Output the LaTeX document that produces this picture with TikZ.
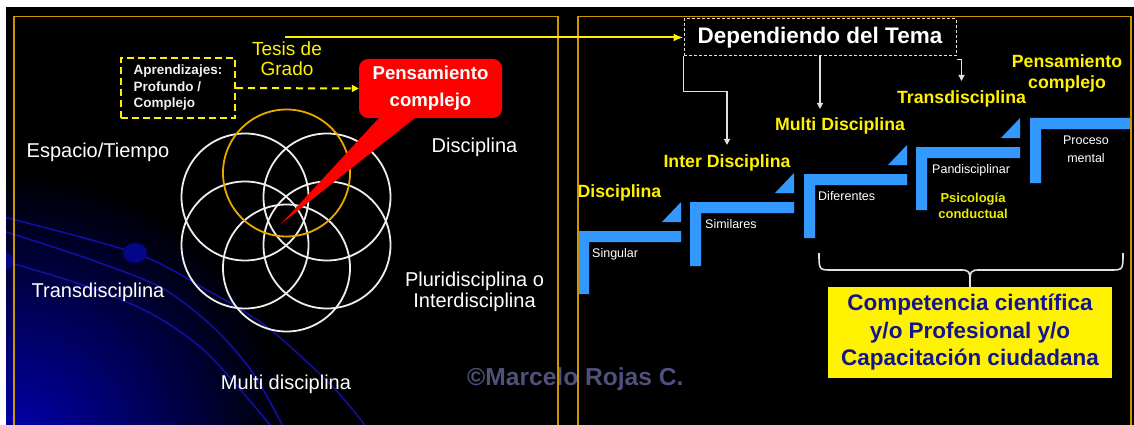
\documentclass[tikz,border=0pt]{standalone}
\usepackage{fontspec}
\setmainfont{Liberation Sans}
\usetikzlibrary{arrows.meta}
\definecolor{gold}{RGB}{204,150,0}
\definecolor{orangec}{RGB}{232,168,0}
\definecolor{stepblue}{RGB}{51,153,255}
\definecolor{navyt}{RGB}{20,20,140}
\definecolor{arcblue}{RGB}{15,15,160}
\definecolor{dotblue}{RGB}{5,5,135}
\definecolor{copyc}{RGB}{80,80,122}
\definecolor{lgray}{RGB}{225,225,225}
\definecolor{glow}{RGB}{0,0,175}
\definecolor{psyc}{RGB}{235,235,0}
\definecolor{circw}{RGB}{238,238,238}
\begin{document}
\begin{tikzpicture}[x=1pt,y=-1pt,
  wlabel/.style={text=white,inner sep=0pt,font=\fontsize{20}{22}\selectfont},
  wlabeltwo/.style={text=white,inner sep=0pt,align=center,font=\fontsize{20}{21}\selectfont},
  tesislabel/.style={text=yellow,inner sep=0pt,align=center,font=\fontsize{19}{20}\selectfont},
  ylabel/.style={text=yellow,inner sep=0pt,font=\bfseries\fontsize{17.7}{21}\selectfont},
  ylabeltwo/.style={text=yellow,inner sep=0pt,align=center,font=\bfseries\fontsize{17.7}{21}\selectfont},
  steplabel/.style={text=white,inner sep=0pt,font=\fontsize{12.5}{18}\selectfont},
  steplabeltwo/.style={text=white,inner sep=0pt,align=center,font=\fontsize{12.5}{18}\selectfont},
  psylabel/.style={text=psyc,inner sep=0pt,align=center,font=\bfseries\fontsize{13}{16}\selectfont},
  conn/.style={draw=lgray,line width=1.3pt,-{Triangle[length=6pt,width=6pt]}},
  ring/.style={draw=circw,line width=1.8pt},
]
\useasboundingbox (0,0) rectangle (1134,425);
\fill[black] (6,7) rectangle (1134,425);

% background glow and arcs of the left panel
\begin{scope}
  \clip (6,7) rectangle (558,425);
  \foreach \i in {1,...,45} {
    \pgfmathsetmacro\rr{275*(1-(\i-1)/45)}
    \pgfmathsetmacro\pp{100*\i/45}
    \fill[glow!\pp!black] (15,450) circle (\rr);
  }
  \draw[arcblue,line width=1.6pt] plot[smooth] coordinates {(0,216) (135,253) (207,290) (267,327) (333,387) (370,432)};
  \draw[arcblue,line width=1.6pt] plot[smooth] coordinates {(0,230) (83,257) (160,287) (213,327) (253,373) (286,432)};
  \draw[arcblue,line width=1.6pt] plot[smooth] coordinates {(0,260) (83,285) (150,313) (207,353) (276,432)};
  \fill[dotblue] (135,253) ellipse [x radius=12, y radius=10];
  \fill[dotblue] (4,261) circle (9);
\end{scope}

% flower of circles
\foreach \cx/\cy in {245/197,327/197,245/245,327/245,286.5/268}
  \draw[ring] (\cx,\cy) circle (63.5);
\draw[orangec,line width=1.8pt] (286.5,173) circle (63.5);

% left labels
\node[wlabel,anchor=base] (espacio) at (98,157) {Espacio/Tiempo};
\node[wlabel,anchor=base] (transL) at (98,297) {Transdisciplina};
\node[wlabel,anchor=base] (discL) at (474.5,152) {Disciplina};
\node[wlabeltwo] (pluri) at (474.5,291.5) {Pluridisciplina o\\Interdisciplina};
\node[wlabel,anchor=base] (multiL) at (286,389) {Multi disciplina};
\node[tesislabel] (tesis) at (287,58.5) {Tesis de\\Grado};

% Aprendizajes box and Pensamiento callout
\node[draw=yellow,dash pattern=on 7pt off 4pt,line width=2pt,minimum width=114pt,minimum height=60pt,inner sep=0pt,text=white!94!black,align=left,font=\bfseries\fontsize{13.5}{16.5}\selectfont] (apr) at (178,88) {Aprendizajes:\\Profundo /\\Complejo};
\node[fill=red,rounded corners=9pt,minimum width=143pt,minimum height=59pt,inner sep=0pt,text=white,align=center,font=\bfseries\fontsize{18.6}{27}\selectfont] (pc) at (430.5,88.5) {Pensamiento\\complejo};
\coordinate (tip) at (281,224);
\fill[red] ([xshift=-49pt,yshift=3pt]pc.south) -- (tip) -- ([xshift=-12pt,yshift=3pt]pc.south) -- cycle;
\draw[yellow,line width=2pt,dash pattern=on 7pt off 5pt,-{Triangle[length=7pt,width=7pt]}] (apr.east) -- (pc.west);

% copyright
\node[anchor=base west,inner sep=0pt,text=copyc,font=\bfseries\fontsize{24.6}{26}\selectfont] (copy) at (467,385) {©Marcelo Rojas C.};

% steps
\foreach \xa/\ya/\xb/\yb in {578/231/681/294, 690/202/794/266, 804/174/907/238, 916/147/1020/210, 1030/118/1131/183}
  \fill[stepblue] (\xa,\ya) -- (\xb,\ya) -- (\xb,\ya+11) -- (\xa+11,\ya+11) -- (\xa+11,\yb) -- (\xa,\yb) -- cycle;
\foreach \xb/\ya in {681/231, 794/202, 907/174, 1020/147}
  \fill[stepblue] (\xb-19,\ya-9) -- (\xb,\ya-9) -- (\xb,\ya-29) -- cycle;

% right labels
\node[ylabel,anchor=base] (discR) at (619.5,197) {Disciplina};
\node[ylabel,anchor=base] (inter) at (727,167) {Inter Disciplina};
\node[ylabel,anchor=base] (multi) at (840,130) {Multi Disciplina};
\node[ylabel,anchor=base] (trans) at (961.5,103) {Transdisciplina};
\node[ylabeltwo] (pcR) at (1067,73.5) {Pensamiento\\complejo};

\node[steplabel,anchor=base west] (sing) at (592,257) {Singular};
\node[steplabel,anchor=base west] (simi) at (705,228) {Similares};
\node[steplabel,anchor=base west] (dife) at (818,200) {Diferentes};
\node[steplabel,anchor=base west] (pand) at (932,173) {Pandisciplinar};
\node[steplabeltwo] (proc) at (1086,149) {Proceso\\mental};
\node[psylabel] (psi) at (973,206) {Psicología\\conductual};

% Dependiendo box and its connectors
\node[draw=lgray,dash pattern=on 3pt off 2pt,line width=1pt,minimum width=272pt,minimum height=37pt,inner sep=0pt,text=white,font=\bfseries\fontsize{22.5}{26}\selectfont] (dep) at (820,37.5) {Dependiendo del Tema};
\draw[conn] (dep.south west) -- ++(0,35) -| ([yshift=9pt]inter.north);
\draw[conn] (dep.south) -- ([yshift=8pt]dep.south |- multi.north);
\draw[conn] ([yshift=-3pt]dep.south east) -| ([yshift=9pt]trans.north);

% brace and competence box
\node[fill=yellow,minimum width=284pt,minimum height=91pt,inner sep=0pt,text=navyt,align=center,font=\bfseries\fontsize{22.5}{27.5}\selectfont] (comp) at (970,332.5) {Competencia científica\\y/o Profesional y/o\\Capacitación ciudadana};
\draw[lgray,line width=1.6pt] (819,253) .. controls (819,270) .. (832,270) -- (959,270) .. controls (970,270) .. (comp.north) .. controls (970,270) .. (981,270) -- (1110,270) .. controls (1123,270) .. (1123,253);

% panel borders
\draw[gold,line width=1.5pt] (14,430) -- (14,16.5) -- (558,16.5) -- (558,430);
\draw[gold,line width=1.5pt] (578,430) -- (578,16.5) -- (1131,16.5) -- (1131,430);

% yellow arrow from Tesis to Dependiendo
\coordinate (ystart) at (285,37.5);
\draw[yellow,line width=2pt,-{Latex[length=10pt,width=8pt]}] (ystart) -- (dep.west);

% white page margin on top
\fill[white] (0,0) rectangle (1134,7);
\end{tikzpicture}
\end{document}
